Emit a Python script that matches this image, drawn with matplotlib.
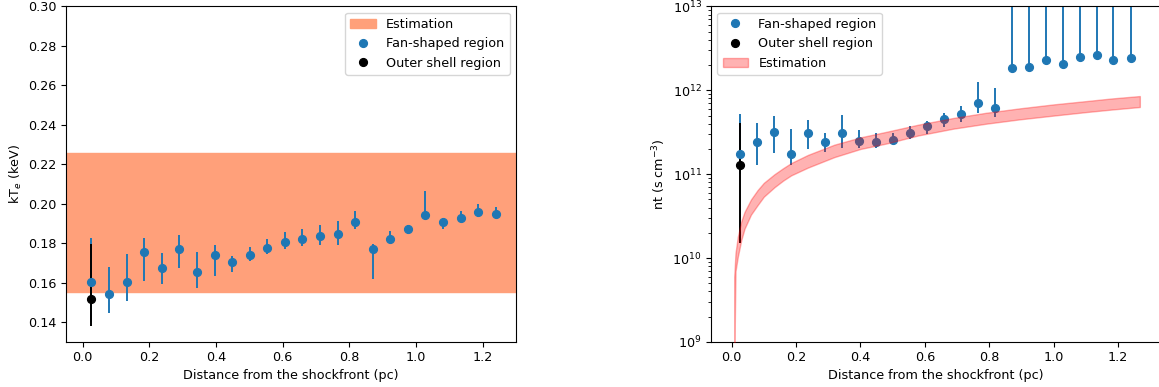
import matplotlib
matplotlib.use("Agg")
import matplotlib.pyplot as plt

# 距離 (pc)
dist = [0.026, 0.079, 0.132, 0.185, 0.237, 0.290, 0.343, 0.396, 0.448, 0.501, 0.554, 0.606,
        0.659, 0.712, 0.765, 0.817, 0.870, 0.923, 0.976, 1.028, 1.081, 1.134, 1.186, 1.239]

# kTe (keV), 扇形領域
kte = [0.1603, 0.1545, 0.1603, 0.1754, 0.1676, 0.1773, 0.1653, 0.1741, 0.1704, 0.1741, 0.1778, 0.1805,
       0.1823, 0.1837, 0.1846, 0.1909, 0.1773, 0.1823, 0.1874, 0.1942, 0.1909, 0.1930, 0.1960, 0.1948]
kte_hi = [0.1825, 0.1682, 0.1746, 0.1825, 0.1749, 0.1842, 0.1754, 0.1791, 0.1737, 0.1780, 0.1820, 0.1856,
          0.1874, 0.1893, 0.1913, 0.1964, 0.1795, 0.1862, 0.1893, 0.2065, 0.1930, 0.1964, 0.1999, 0.1982]
kte_lo = [0.1400, 0.1449, 0.1509, 0.1611, 0.1592, 0.1676, 0.1575, 0.1634, 0.1653, 0.1712, 0.1744, 0.1771,
          0.1786, 0.1790, 0.1790, 0.1871, 0.1621, 0.1803, 0.1846, 0.1923, 0.1874, 0.1909, 0.1932, 0.1930]

# 外殻領域
shell_x = [0.026]
shell_kte = [0.1516]
shell_kte_hi = [0.1795]
shell_kte_lo = [0.1383]

kte_band = [0.1552, 0.2259]

# nt (s cm^-3)
nt = [1.76e11, 2.44e11, 3.21e11, 1.76e11, 3.07e11, 2.44e11, 3.13e11, 2.51e11, 2.44e11, 2.58e11, 3.13e11, 3.76e11,
      4.55e11, 5.18e11, 7.13e11, 6.15e11, 1.87e12, 1.91e12, 2.29e12, 2.07e12, 2.47e12, 2.66e12, 2.33e12, 2.40e12]
nt_hi = [5.18e11, 4.08e11, 4.94e11, 3.49e11, 4.47e11, 3.07e11, 5.04e11, 3.40e11, 3.07e11, 3.07e11, 3.72e11, 4.35e11,
         5.42e11, 6.50e11, 1.27e12, 1.07e12, 5e13, 5e13, 5e13, 5e13, 5e13, 5e13, 5e13, 5e13]
nt_lo = [1.00e11, 1.30e11, 1.79e11, 1.30e11, 2.00e11, 1.84e11, 2.04e11, 2.06e11, 2.08e11, 2.31e11, 2.65e11, 3.04e11,
         3.62e11, 4.20e11, 5.37e11, 4.76e11, 1.87e12, 1.91e12, 2.29e12, 2.07e12, 2.47e12, 2.66e12, 2.33e12, 2.40e12]

shell_nt = [1.30e11]
shell_nt_hi = [4.08e11]
shell_nt_lo = [1.51e10]

# 推定の帯 (右図)
est_x = [0.008, 0.012, 0.019, 0.030, 0.040, 0.060, 0.081, 0.100, 0.133, 0.160, 0.185, 0.237, 0.319,
         0.400, 0.480, 0.580, 0.688, 0.790, 0.895, 1.000, 1.102, 1.180, 1.268]
est_lo = [5e8, 7.0e9, 1.03e10, 1.65e10, 2.24e10, 3.3e10, 4.3e10, 5.4e10, 7.0e10, 8.4e10, 9.7e10, 1.2e11, 1.6e11,
          2.0e11, 2.32e11, 2.9e11, 3.49e11, 4.0e11, 4.51e11, 5.0e11, 5.51e11, 5.9e11, 6.33e11]
est_hi = [6.0e9, 1.15e10, 1.79e10, 2.75e10, 3.55e10, 5.0e10, 6.5e10, 7.9e10, 1.0e11, 1.18e11, 1.36e11, 1.70e11, 2.25e11,
          2.75e11, 3.2e11, 3.9e11, 4.68e11, 5.4e11, 6.10e11, 6.8e11, 7.45e11, 8.0e11, 8.55e11]


def err(v, lo, hi):
    return [[a - b for a, b in zip(v, lo)], [b - a for a, b in zip(v, hi)]]


plt.rcParams['font.size'] = 9.2
plt.rcParams['lines.markersize'] = 5.6
plt.rcParams['lines.linewidth'] = 1.4
plt.rcParams['xtick.major.size'] = 3.3
plt.rcParams['ytick.major.size'] = 3.3
plt.rcParams['ytick.minor.size'] = 1.9
plt.rcParams['axes.labelpad'] = 3.0

fig = plt.figure(figsize=(11.59, 3.87), dpi=100)
ax1 = fig.add_axes([0.0569, 0.1163, 0.3883, 0.867])
ax2 = fig.add_axes([0.6135, 0.1163, 0.3883, 0.867])

# 左: 温度
band = ax1.axhspan(kte_band[0], kte_band[1], color='lightsalmon')
eb1 = ax1.errorbar(dist, kte, yerr=err(kte, kte_lo, kte_hi), fmt='o', color='tab:blue')
eb2 = ax1.errorbar(shell_x, shell_kte, yerr=err(shell_kte, shell_kte_lo, shell_kte_hi), fmt='o', color='black')
ax1.set_xlim(-0.05, 1.30)
ax1.set_ylim(0.13, 0.30)
ax1.set_yticks([0.14, 0.16, 0.18, 0.20, 0.22, 0.24, 0.26, 0.28, 0.30])
ax1.set_xlabel("Distance from the shockfront (pc)")
ax1.set_ylabel("kT$_e$ (keV)")
ax1.legend([band, eb1[0], eb2[0]], ["Estimation", "Fan-shaped region", "Outer shell region"],
           loc='upper right')

# 右: 電離パラメータ
eb3 = ax2.errorbar(dist, nt, yerr=err(nt, nt_lo, nt_hi), fmt='o', color='tab:blue')
eb4 = ax2.errorbar(shell_x, shell_nt, yerr=err(shell_nt, shell_nt_lo, shell_nt_hi), fmt='o', color='black')
fb = ax2.fill_between(est_x, est_lo, est_hi, color='red', alpha=0.3, zorder=3)
ax2.set_yscale('log')
ax2.set_xlim(-0.064, 1.334)
ax2.set_ylim(1e9, 1e13)
ax2.set_xticks([0.0, 0.2, 0.4, 0.6, 0.8, 1.0, 1.2])
ax2.set_xlabel("Distance from the shockfront (pc)")
ax2.set_ylabel("nt (s cm$^{-3}$)")
ax2.legend([eb3[0], eb4[0], fb], ["Fan-shaped region", "Outer shell region", "Estimation"],
           loc='upper left')

fig.savefig("out.png", dpi=100)
